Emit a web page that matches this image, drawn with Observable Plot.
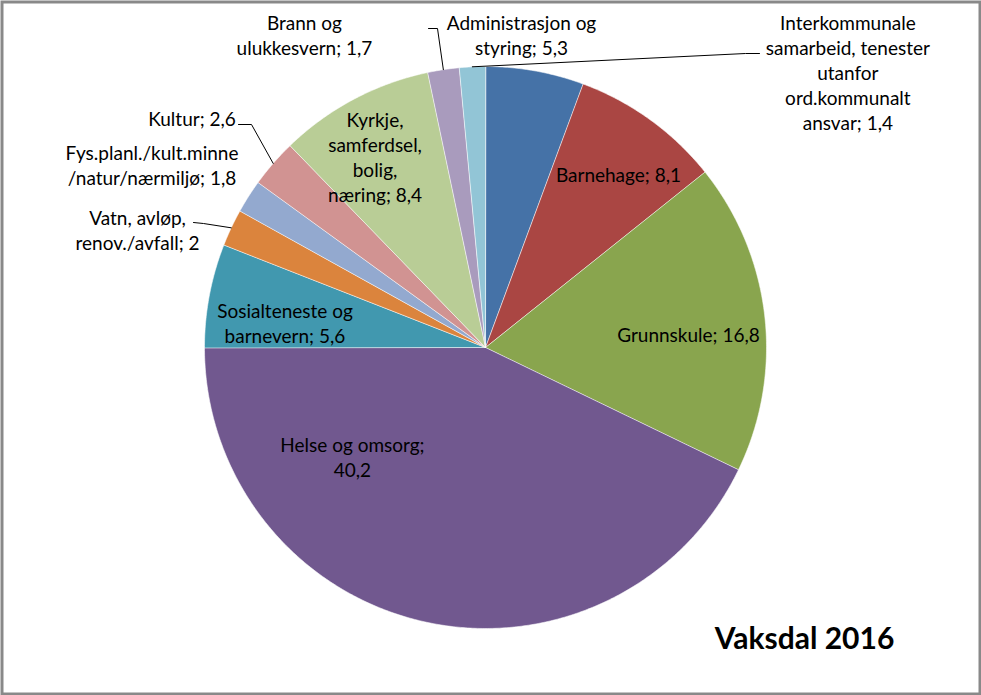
<!DOCTYPE html>
<html><head><meta charset="utf-8">
<script src="https://cdn.jsdelivr.net/npm/d3@7"></script>
<script src="https://cdn.jsdelivr.net/npm/@observablehq/plot@0.6"></script>
<style>
html,body{margin:0;padding:0;background:#fff;}
#chart svg{display:block;}
</style></head>
<body><div id="chart"></div>
<script>
// ---- data ----
const categories = [
  "Administrasjon og styring", "Barnehage", "Grunnskule", "Helse og omsorg",
  "Sosialteneste og barnevern", "Vatn, avløp, renov./avfall",
  "Fys.planl./kult.minne /natur/nærmiljø", "Kultur",
  "Kyrkje, samferdsel, bolig, næring", "Brann og ulukkesvern",
  "Interkommunale samarbeid, tenester utanfor ord.kommunalt ansvar"
];
const values = [5.3, 8.1, 16.8, 40.2, 5.6, 2, 1.8, 2.6, 8.4, 1.7, 1.4];
const wrappedNames = [
  "Administrasjon og\nstyring", "Barnehage", "Grunnskule", "Helse og omsorg",
  "Sosialteneste og\nbarnevern", "Vatn, avløp,\nrenov./avfall",
  "Fys.planl./kult.minne\n/natur/nærmiljø", "Kultur",
  "Kyrkje,\nsamferdsel,\nbolig,\nnæring", "Brann og\nulukkesvern",
  "Interkommunale\nsamarbeid, tenester\nutanfor\nord.kommunalt\nansvar"
];
const separators = ["; ", "; ", "; ", ";\n", "; ", "; ", "; ", "; ", "; ", "; ", "; "];
const colors = ["#4572A7", "#AA4643", "#89A54E", "#71588F", "#4198AF", "#DB843D",
                "#93A9CF", "#D19392", "#B9CD96", "#A99BBD", "#92C5D6"];
const title = "Vaksdal 2016";

// ---- layout ----
const W = 981, H = 695, cx = 485, cy = 347, R = 281;
const FONT = "Lato, 'Open Sans', sans-serif";
// label centre in polar form: [angle degrees clockwise from top, radius in pie radii]
const labelPolar = [[6.56, 1.121], [37.4, 0.779], [86.06, 0.724], [230.8, 0.611],
  [276.97, 0.719], [288.8, 1.308], [298.7, 1.353], [307.97, 1.325],
  [329.95, 0.785], [329.96, 1.287], [52.8, 1.619]];
// leader lines: slice index, then pixel anchor points near the label
const leaders = [
  {slice: 9, pts: [[428, 28], [437, 28]]},
  {slice: 10, pts: [[759, 53], [745, 53]]},
  {slice: 7, pts: [[238, 124], [251, 124]]},
  {slice: 5, pts: [[193, 222], [203, 223]]}
];
const titleAt = [804, 639];

const toU = ([x, y]) => [(x - cx) / R, (cy - y) / R];
const polar = (rad, r) => [r * Math.sin(rad), r * Math.cos(rad)];

const arcs = d3.pie().sort(null).value(d => d)(values);

const slicePts = [];
arcs.forEach((a, i) => {
  const n = Math.max(2, Math.ceil((a.endAngle - a.startAngle) / (Math.PI / 360)));
  slicePts.push({key: categories[i], x: 0, y: 0});
  for (let k = 0; k <= n; k++) {
    const t = a.startAngle + (a.endAngle - a.startAngle) * k / n;
    const [x, y] = polar(t, 1);
    slicePts.push({key: categories[i], x, y});
  }
});

const fmt = v => String(v).replace(".", ",");
const labels = categories.map((c, i) => {
  const [deg, r] = labelPolar[i];
  const [x, y] = polar(deg * Math.PI / 180, r);
  return {key: c, x, y, text: wrappedNames[i] + separators[i] + fmt(values[i])};
});

const leaderPts = [];
leaders.forEach((l, j) => {
  l.pts.forEach(p => { const [x, y] = toU(p); leaderPts.push({id: j, x, y}); });
  const a = arcs[l.slice];
  const [x, y] = polar((a.startAngle + a.endAngle) / 2, 1.0);
  leaderPts.push({id: j, x, y});
});

const titleData = [{text: title, x: toU(titleAt)[0], y: toU(titleAt)[1]}];

const chart = Plot.plot({
  width: W, height: H, margin: 0,
  x: {domain: [-1, 1], range: [cx - R, cx + R], axis: null},
  y: {domain: [-1, 1], range: [cy + R, cy - R], axis: null},
  color: {domain: categories, range: colors},
  style: {fontFamily: FONT, background: "#fff"},
  marks: [
    Plot.line(slicePts, {x: "x", y: "y", z: "key", fill: "key", stroke: "#ffffff",
      strokeWidth: 1, strokeOpacity: 0.55, curve: "linear-closed"}),
    Plot.line(leaderPts, {x: "x", y: "y", z: "id", stroke: "#000", strokeWidth: 1}),
    Plot.text(labels, {x: "x", y: "y", text: "text", fontSize: 19, lineHeight: 25 / 19,
      fill: "#000", textAnchor: "middle", lineAnchor: "middle", fontFamily: FONT}),
    Plot.text(titleData, {x: "x", y: "y", text: "text", fontSize: 30, fontWeight: "bold",
      fill: "#000", textAnchor: "middle", lineAnchor: "middle", fontFamily: FONT}),
    Plot.frame({stroke: "#898989", strokeWidth: 3, inset: 1.5})
  ]
});
document.getElementById("chart").append(chart);
</script>
</body></html>
